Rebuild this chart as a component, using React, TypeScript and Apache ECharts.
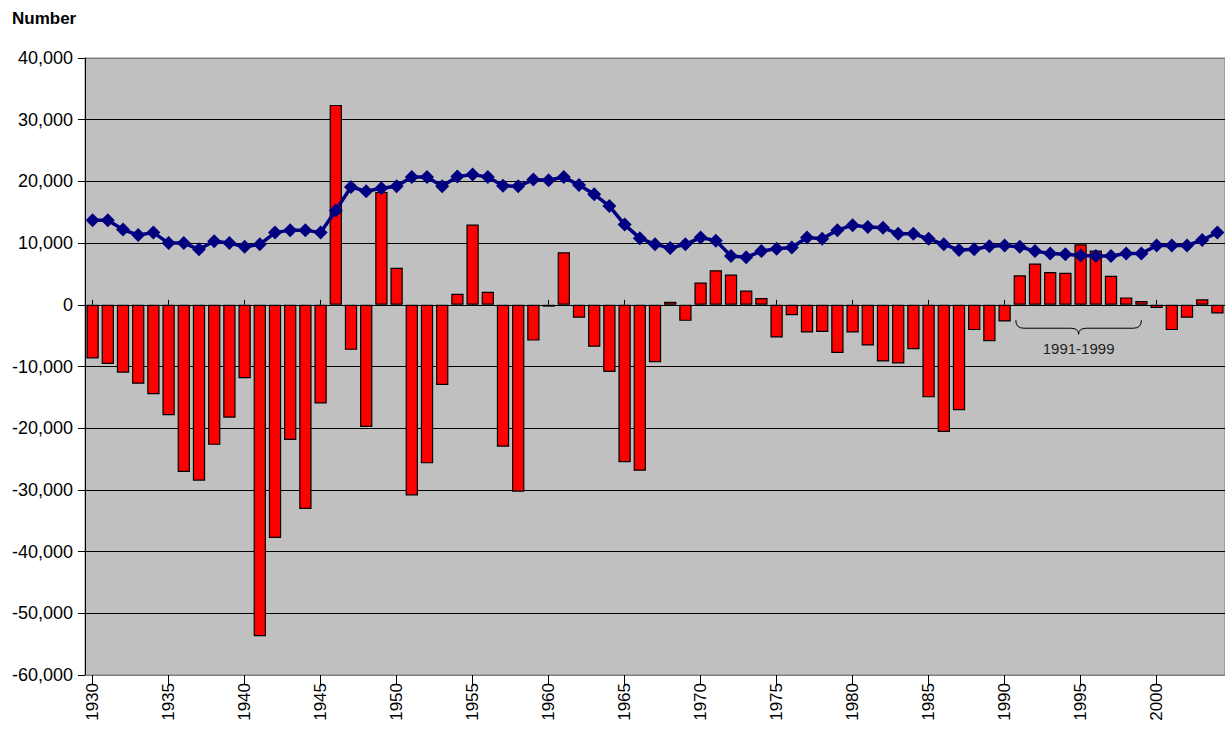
import React, { useEffect, useRef } from "react";
import * as echarts from "echarts";

const years: string[] = [
  "1930","1931","1932","1933","1934","1935","1936","1937","1938","1939",
  "1940","1941","1942","1943","1944","1945","1946","1947","1948","1949",
  "1950","1951","1952","1953","1954","1955","1956","1957","1958","1959",
  "1960","1961","1962","1963","1964","1965","1966","1967","1968","1969",
  "1970","1971","1972","1973","1974","1975","1976","1977","1978","1979",
  "1980","1981","1982","1983","1984","1985","1986","1987","1988","1989",
  "1990","1991","1992","1993","1994","1995","1996","1997","1998","1999",
  "2000","2001","2002","2003","2004",
];

const barValues: number[] = [
  -8700, -9600, -11000, -12800, -14500, -17900, -27100, -28500, -22700, -18300,
  -11900, -53700, -37800, -21900, -33100, -16000, 32400, -7300, -19800, 18300,
  6000, -30900, -25700, -13000, 1800, 13000, 2100, -23000, -30300, -5800,
  -300, 8500, -2100, -6800, -10900, -25500, -26900, -9300, 500, -2600,
  3600, 5600, 4900, 2300, 1100, -5300, -1700, -4500, -4400, -7800,
  -4500, -6600, -9200, -9500, -7200, -15000, -20600, -17100, -4100, -5900,
  -2700, 4800, 6700, 5300, 5200, 9800, 8800, 4700, 1200, 600,
  -500, -4100, -2100, 900, -1400,
];

const lineValues: number[] = [
  13700, 13700, 12200, 11300, 11700, 10000, 10000, 9000, 10300, 10000,
  9400, 9800, 11700, 12100, 12100, 11700, 15300, 19100, 18400, 18900,
  19200, 20700, 20700, 19200, 20800, 21100, 20700, 19300, 19200, 20300,
  20200, 20700, 19400, 17900, 16000, 13000, 10800, 9800, 9200, 9800,
  10900, 10400, 7900, 7700, 8700, 9100, 9300, 10900, 10700, 12100,
  12900, 12600, 12500, 11500, 11500, 10700, 9800, 8900, 9000, 9500,
  9600, 9400, 8700, 8300, 8200, 8000, 7900, 7900, 8300, 8300,
  9600, 9600, 9600, 10500, 11700,
];

const yAxisTitle = "Number";
const braceLabel = "1991-1999";
const braceStart = "1991";
const braceEnd = "1999";

const FONT = "'Liberation Sans', Arial, sans-serif";

export default function App() {
  const ref = useRef<HTMLDivElement>(null);

  useEffect(() => {
    document.body.style.margin = "0";
    if (!ref.current) return;
    const chart = echarts.init(ref.current, undefined, { renderer: "svg" });
    const splitColors = ["#808080", "#000", "#000", "#000", "#000", "#000", "#000", "#000", "#000", "#000", "#808080"];
    chart.setOption({
      animation: false,
      backgroundColor: "#ffffff",
      textStyle: { fontFamily: FONT },
      title: {
        text: yAxisTitle,
        left: 7,
        top: 5,
        textStyle: { fontSize: 17, fontWeight: "bold", color: "#000", fontFamily: FONT },
      },
      grid: {
        left: 85,
        top: 58,
        width: 1141,
        height: 617,
        show: true,
        backgroundColor: "#C0C0C0",
        borderColor: "#808080",
        borderWidth: 1,
      },
      xAxis: [
        {
          type: "category",
          data: years,
          boundaryGap: true,
          position: "bottom",
          axisLine: { show: true, onZero: false, lineStyle: { color: "#808080", width: 1 } },
          axisTick: { show: true, interval: 4, alignWithLabel: true, length: 10, lineStyle: { color: "#000" } },
          axisLabel: {
            interval: 4,
            rotate: 90,
            margin: 8,
            fontSize: 17,
            color: "#000",
            fontFamily: FONT,
          },
          splitLine: { show: false },
        },
        {
          type: "category",
          data: years,
          boundaryGap: true,
          position: "bottom",
          axisLine: { show: false },
          axisTick: { show: true, inside: true, interval: 4, alignWithLabel: true, length: 5, lineStyle: { color: "#000" } },
          axisLabel: { show: false },
          splitLine: { show: false },
        },
      ],
      yAxis: {
        type: "value",
        min: -60000,
        max: 40000,
        interval: 10000,
        axisLine: { show: true, lineStyle: { color: "#000", width: 1 } },
        axisTick: { show: true, length: 7, lineStyle: { color: "#000" } },
        axisLabel: {
          fontSize: 18,
          color: "#000",
          margin: 12,
          fontFamily: FONT,
          formatter: (v: number) => v.toLocaleString("en-US"),
        },
        splitLine: { show: true, lineStyle: { color: splitColors, width: 1 } },
      },
      series: [
        {
          type: "bar",
          data: barValues,
          xAxisIndex: 0,
          barCategoryGap: "19%",
          itemStyle: { color: "#FF0000", borderColor: "#000", borderWidth: 1.2 },
          z: 2,
        },
        {
          type: "line",
          data: lineValues,
          xAxisIndex: 0,
          symbol: "diamond",
          symbolSize: [14, 14],
          showAllSymbol: true,
          lineStyle: { color: "#000080", width: 3.5 },
          itemStyle: { color: "#000080" },
          z: 3,
        },
      ],
    });

    const xL = (chart.convertToPixel({ xAxisIndex: 0 }, braceStart) as number) - 4;
    const xR = chart.convertToPixel({ xAxisIndex: 0 }, braceEnd) as number;
    const yT = chart.convertToPixel({ yAxisIndex: 0 }, -2500) as number;
    const yM = yT + 8;
    const yB = yT + 14;
    const xm = (xL + xR) / 2;
    const r = 8;
    const ls = { stroke: "#000", lineWidth: 1, fill: "none" };
    chart.setOption({
      graphic: [
        { type: "bezierCurve", shape: { x1: xL, y1: yT, cpx1: xL, cpy1: yM, x2: xL + r, y2: yM }, style: ls, z: 10 },
        { type: "line", shape: { x1: xL + r, y1: yM, x2: xm - r, y2: yM }, style: ls, z: 10 },
        { type: "bezierCurve", shape: { x1: xm - r, y1: yM, cpx1: xm, cpy1: yM, x2: xm, y2: yB }, style: ls, z: 10 },
        { type: "bezierCurve", shape: { x1: xm, y1: yB, cpx1: xm, cpy1: yM, x2: xm + r, y2: yM }, style: ls, z: 10 },
        { type: "line", shape: { x1: xm + r, y1: yM, x2: xR - r, y2: yM }, style: ls, z: 10 },
        { type: "bezierCurve", shape: { x1: xR - r, y1: yM, cpx1: xR, cpy1: yM, x2: xR, y2: yT }, style: ls, z: 10 },
        {
          type: "text",
          x: xm,
          y: yB + 14,
          style: { text: braceLabel, fontSize: 15, fill: "#222", fontFamily: FONT, align: "center", verticalAlign: "middle" },
          z: 10,
        },
      ],
    });

    return () => chart.dispose();
  }, []);

  return <div ref={ref} style={{ position: "absolute", left: 0, top: 0, width: 1225, height: 729 }} />;
}
